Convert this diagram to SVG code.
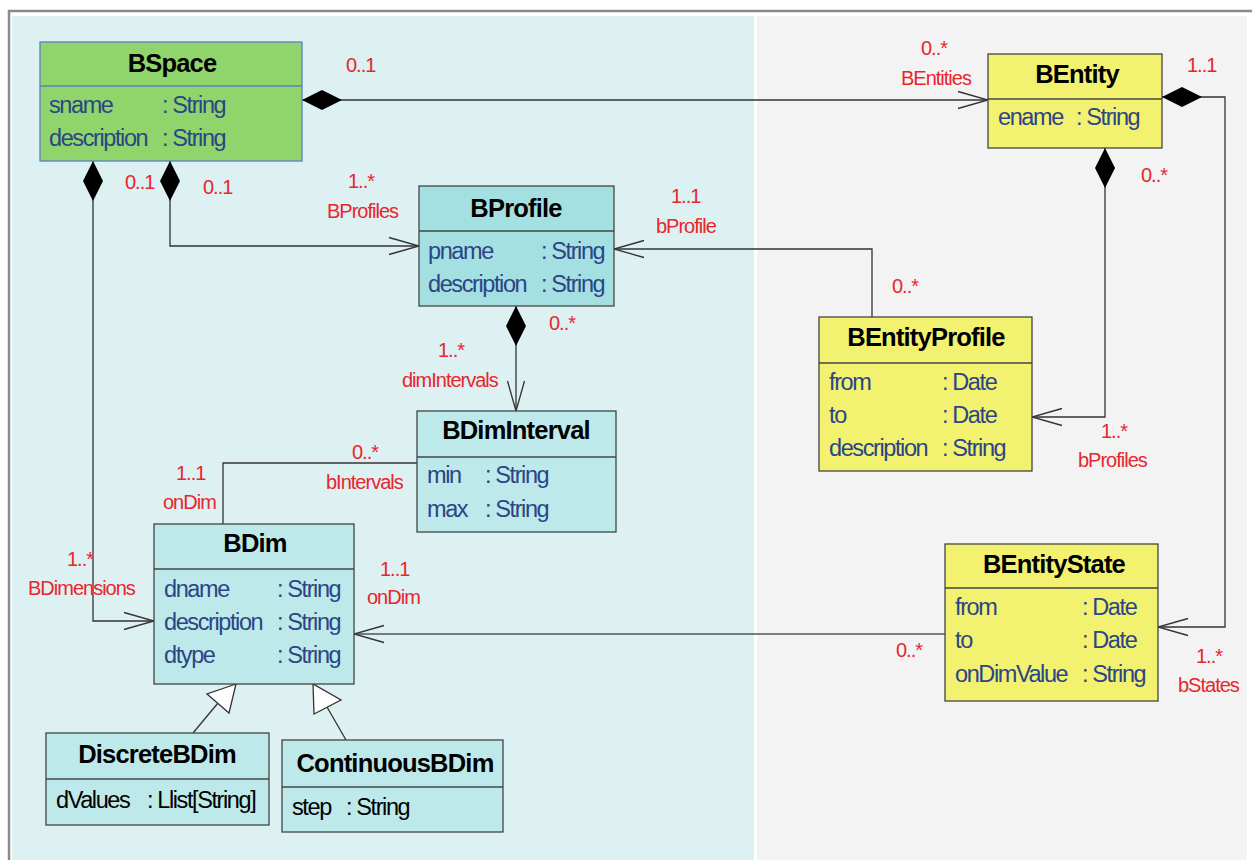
<svg xmlns="http://www.w3.org/2000/svg" width="1252" height="860" viewBox="0 0 1252 860">
<style>
.title{font-family:"Liberation Sans",Arial,sans-serif;font-weight:bold;font-size:25.5px;letter-spacing:-0.8px;fill:#000;text-anchor:middle}
.attr{font-family:"Liberation Sans",Arial,sans-serif;font-size:23.5px;letter-spacing:-1.4px;fill:#2b4585}
.lbl{font-family:"Liberation Sans",Arial,sans-serif;font-size:20px;letter-spacing:-1px;fill:#e8262d}
.conn{stroke:#333;stroke-width:1.3;fill:none}
.box{stroke:#444;stroke-width:1.3}
.teal{fill:#a4dfe1}
.pale{fill:#bee9ea}
.yellow{fill:#f2f270}
.green{fill:#8fd56b;stroke:#5b7fc0}
.div{stroke:#444;stroke-width:1.3}
</style>
<defs>
<marker id="open" markerUnits="userSpaceOnUse" markerWidth="40" markerHeight="24" viewBox="-32 -12 40 24" refX="0" refY="0" orient="auto">
<path d="M-30,-8.5 L0,0 L-30,8.5" fill="none" stroke="#333" stroke-width="1.3"/>
</marker>
<marker id="dia" markerUnits="userSpaceOnUse" markerWidth="46" markerHeight="26" viewBox="-2 -13 46 26" refX="0" refY="0" orient="auto">
<path d="M0,0 L20,-10 L40,0 L20,10 Z" fill="#000"/>
</marker>
</defs>
<rect width="1252" height="860" fill="#fff"/>
<rect x="12" y="16" width="742" height="844" fill="#ddf0f2"/>
<rect x="757" y="16" width="490" height="844" fill="#f3f3f3"/>
<path d="M9,860 V11 H1252" fill="none" stroke="#8a8a8a" stroke-width="2.5"/>

<g id="connectors">
<path class="conn" d="M302,100 H988" marker-start="url(#dia)" marker-end="url(#open)"/>
<path class="conn" d="M170,161 V246 H419" marker-start="url(#dia)" marker-end="url(#open)"/>
<path class="conn" d="M93,161 V621 H154" marker-start="url(#dia)" marker-end="url(#open)"/>
<path class="conn" d="M516,306 V411" marker-start="url(#dia)" marker-end="url(#open)"/>
<path class="conn" d="M872,317 V249 H614" marker-end="url(#open)"/>
<path class="conn" d="M1105,148 V417 H1032" marker-start="url(#dia)" marker-end="url(#open)"/>
<path class="conn" d="M1162,97 H1225 V627 H1158" marker-start="url(#dia)" marker-end="url(#open)"/>
<path class="conn" d="M945,634 H354" marker-end="url(#open)" style="stroke:#555"/>
<path class="conn" d="M417,463 H223 V524"/>
<path class="conn" d="M193,733 L218,703"/>
<polygon points="236,684 207,694 229,713" fill="#fff" stroke="#333" stroke-width="1.3"/>
<path class="conn" d="M346,740 L327,707"/>
<polygon points="313,684 314,714 341,700" fill="#fff" stroke="#333" stroke-width="1.3"/>
<text class="lbl" x="346" y="72">0..1</text>
<text class="lbl" x="921" y="55">0..*</text>
<text class="lbl" x="901" y="85">BEntities</text>
<text class="lbl" x="125" y="189">0..1</text>
<text class="lbl" x="203" y="194">0..1</text>
<text class="lbl" x="348" y="188">1..*</text>
<text class="lbl" x="327" y="218">BProfiles</text>
<text class="lbl" x="67" y="566">1..*</text>
<text class="lbl" x="28" y="595">BDimensions</text>
<text class="lbl" x="549" y="330">0..*</text>
<text class="lbl" x="438" y="357">1..*</text>
<text class="lbl" x="402" y="387">dimIntervals</text>
<text class="lbl" x="671" y="203">1..1</text>
<text class="lbl" x="656" y="233">bProfile</text>
<text class="lbl" x="892" y="293">0..*</text>
<text class="lbl" x="1141" y="182">0..*</text>
<text class="lbl" x="1101" y="438">1..*</text>
<text class="lbl" x="1078" y="467">bProfiles</text>
<text class="lbl" x="1187" y="72">1..1</text>
<text class="lbl" x="1196" y="663">1..*</text>
<text class="lbl" x="1178" y="692">bStates</text>
<text class="lbl" x="896" y="657">0..*</text>
<text class="lbl" x="380" y="576">1..1</text>
<text class="lbl" x="367" y="604">onDim</text>
<text class="lbl" x="352" y="459">0..*</text>
<text class="lbl" x="326" y="489">bIntervals</text>
<text class="lbl" x="176" y="480">1..1</text>
<text class="lbl" x="163" y="509">onDim</text>
</g>

<g id="BSpace">
<rect class="green" x="40" y="42" width="262" height="119" stroke-width="1.3"/>
<line x1="40" y1="86" x2="302" y2="86" stroke="#5b7fc0" stroke-width="1.3"/>
<text class="title" x="172" y="72">BSpace</text>
<text class="attr" x="49" y="113">sname</text><text class="attr" x="162" y="113">: String</text>
<text class="attr" x="49" y="146">description</text><text class="attr" x="162" y="146">: String</text>
</g>

<g id="BProfile">
<rect class="box teal" x="419" y="186" width="195" height="120"/>
<line class="div" x1="419" y1="231" x2="614" y2="231"/>
<text class="title" x="516" y="217">BProfile</text>
<text class="attr" x="428" y="259">pname</text><text class="attr" x="541" y="259">: String</text>
<text class="attr" x="428" y="292">description</text><text class="attr" x="541" y="292">: String</text>
</g>

<g id="BEntity">
<rect class="box yellow" x="988" y="54" width="174" height="94"/>
<line class="div" x1="988" y1="99" x2="1162" y2="99"/>
<text class="title" x="1077" y="83">BEntity</text>
<text class="attr" x="998" y="125">ename</text><text class="attr" x="1076" y="125">: String</text>
</g>

<g id="BEntityProfile">
<rect class="box yellow" x="819" y="317" width="213" height="154"/>
<line class="div" x1="819" y1="363" x2="1032" y2="363"/>
<text class="title" x="926" y="346">BEntityProfile</text>
<text class="attr" x="829" y="390">from</text><text class="attr" x="942" y="390">: Date</text>
<text class="attr" x="829" y="423">to</text><text class="attr" x="942" y="423">: Date</text>
<text class="attr" x="829" y="456">description</text><text class="attr" x="942" y="456">: String</text>
</g>

<g id="BDimInterval">
<rect class="box pale" x="417" y="411" width="199" height="121"/>
<line class="div" x1="417" y1="457" x2="616" y2="457"/>
<text class="title" x="516" y="439">BDimInterval</text>
<text class="attr" x="427" y="483">min</text><text class="attr" x="485" y="483">: String</text>
<text class="attr" x="427" y="517">max</text><text class="attr" x="485" y="517">: String</text>
</g>

<g id="BDim">
<rect class="box pale" x="154" y="524" width="200" height="160"/>
<line class="div" x1="154" y1="569" x2="354" y2="569"/>
<text class="title" x="255" y="552">BDim</text>
<text class="attr" x="164" y="597">dname</text><text class="attr" x="277" y="597">: String</text>
<text class="attr" x="164" y="630">description</text><text class="attr" x="277" y="630">: String</text>
<text class="attr" x="164" y="663">dtype</text><text class="attr" x="277" y="663">: String</text>
</g>

<g id="DiscreteBDim">
<rect class="box pale" x="46" y="733" width="223" height="92"/>
<line class="div" x1="46" y1="779" x2="269" y2="779"/>
<text class="title" x="157" y="763">DiscreteBDim</text>
<text class="attr" x="56" y="808" style="fill:#000">dValues</text><text class="attr" x="147" y="808" style="fill:#000">: Llist[String]</text>
</g>

<g id="ContinuousBDim">
<rect class="box pale" x="282" y="740" width="221" height="92"/>
<line class="div" x1="282" y1="787" x2="503" y2="787"/>
<text class="title" x="395" y="772">ContinuousBDim</text>
<text class="attr" x="292" y="815" style="fill:#000">step</text><text class="attr" x="346" y="815" style="fill:#000">: String</text>
</g>

<g id="BEntityState">
<rect class="box yellow" x="945" y="544" width="213" height="157"/>
<line class="div" x1="945" y1="588" x2="1158" y2="588"/>
<text class="title" x="1054" y="573">BEntityState</text>
<text class="attr" x="955" y="615">from</text><text class="attr" x="1082" y="615">: Date</text>
<text class="attr" x="955" y="648">to</text><text class="attr" x="1082" y="648">: Date</text>
<text class="attr" x="955" y="682">onDimValue</text><text class="attr" x="1082" y="682">: String</text>
</g>
</svg>
